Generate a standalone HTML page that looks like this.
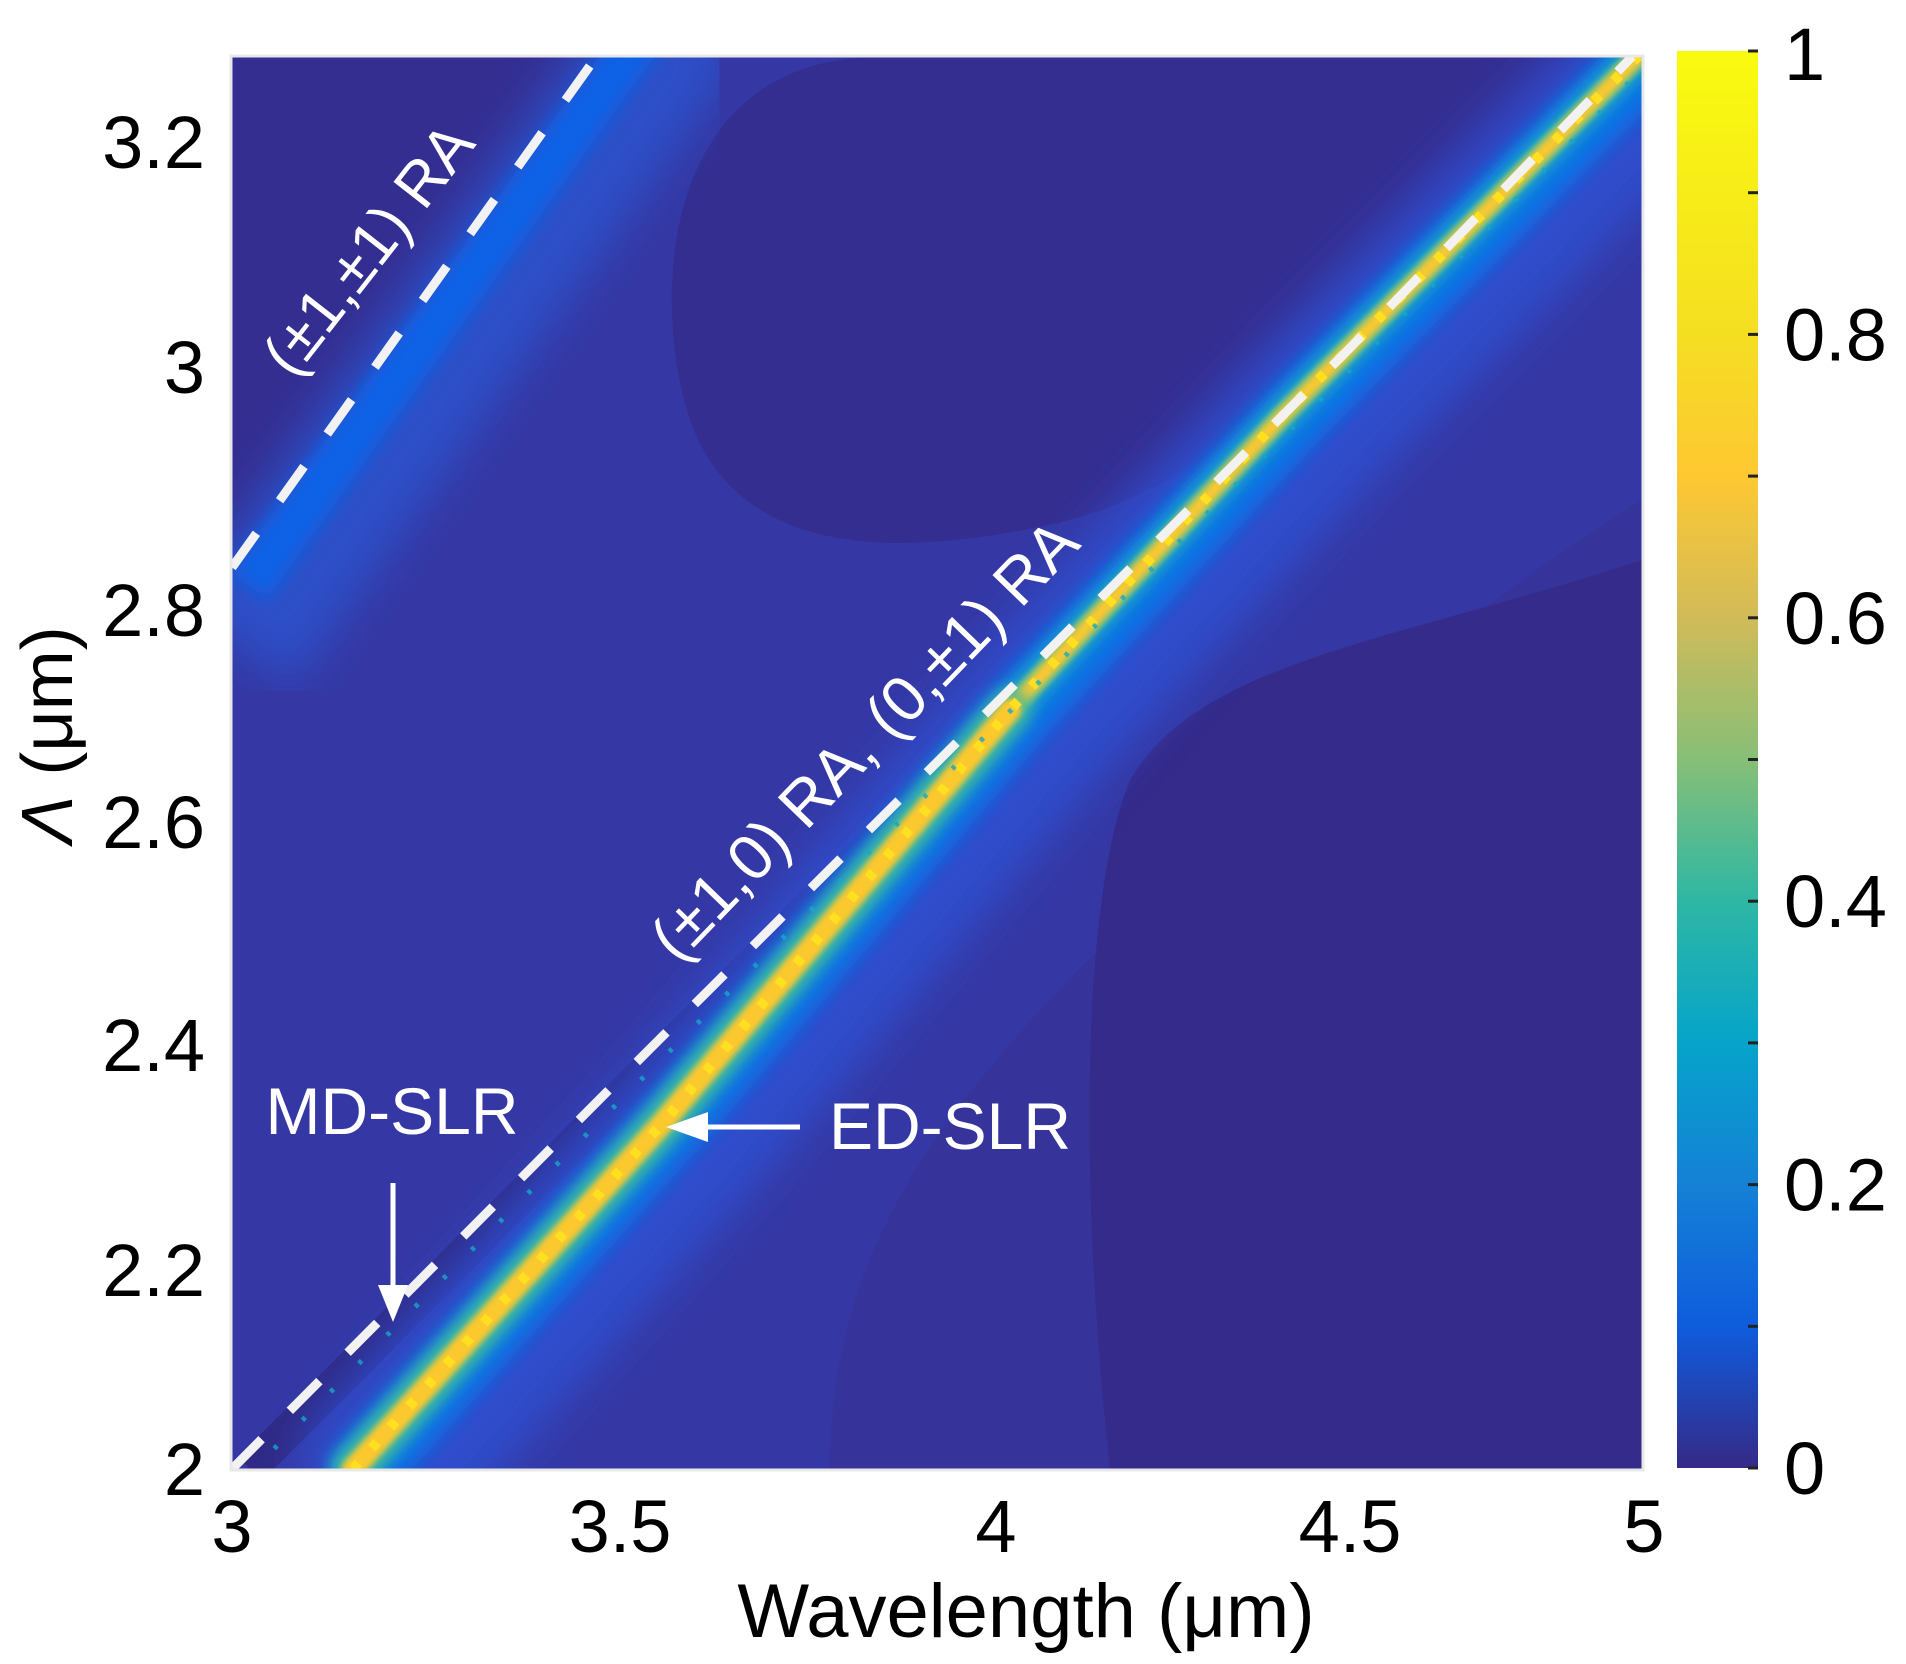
<!DOCTYPE html>
<html><head><meta charset="utf-8"><style>
html,body{margin:0;padding:0;background:#fff;}
svg{display:block;font-family:"Liberation Sans",Arial,sans-serif;}
</style></head><body>
<svg id="chart" width="1906" height="1664" viewBox="0 0 1906 1664" xmlns="http://www.w3.org/2000/svg">
<defs>
 <clipPath id="plotclip"><rect x="232" y="57" width="1410" height="1412"/></clipPath>
 <filter id="blur8" x="-20%" y="-20%" width="140%" height="140%"><feGaussianBlur stdDeviation="8"/></filter>
 <filter id="blur20" x="-20%" y="-20%" width="140%" height="140%"><feGaussianBlur stdDeviation="22"/></filter>
 <filter id="blur4"><feGaussianBlur stdDeviation="3"/></filter>
 <linearGradient id="cbgrad" x1="0" y1="1" x2="0" y2="0">
  <stop offset="0" stop-color="#352a87"/><stop offset="0.1" stop-color="#0f5cdd"/>
  <stop offset="0.2" stop-color="#1481d6"/><stop offset="0.3" stop-color="#06a4ca"/>
  <stop offset="0.4" stop-color="#2eb7a4"/><stop offset="0.5" stop-color="#87bf77"/>
  <stop offset="0.6" stop-color="#d1bb59"/><stop offset="0.7" stop-color="#fec832"/>
  <stop offset="0.8" stop-color="#f5de22"/><stop offset="1" stop-color="#f9fb0e"/>
 </linearGradient>
</defs>
<g id="plot" clip-path="url(#plotclip)"></g>
<rect x="231" y="56" width="1412" height="1414" fill="none" stroke="#e8e8e8" stroke-width="3"/>
<g id="axes"></g>
<g id="cbar"></g>
<g id="annot"></g>
</svg>
<script>
// ---- data ----
const xTicks = [3, 3.5, 4, 4.5, 5];
const xTickLabels = ['3', '3.5', '4', '4.5', '5'];
const yTicks = [2, 2.2, 2.4, 2.6, 2.8, 3, 3.2];
const yTickLabels = ['2', '2.2', '2.4', '2.6', '2.8', '3', '3.2'];
const cbTicks = [0, 0.1, 0.2, 0.3, 0.4, 0.5, 0.6, 0.7, 0.8, 0.9, 1];
const cbTickLabels = ['0', '', '0.2', '', '0.4', '', '0.6', '', '0.8', '', '1'];
// (±1,0)/(0,±1) Rayleigh anomaly
const ra10Wavelength = [3, 3.5, 4, 4.5, 4.98];
const ra10Period = [2.0, 2.37, 2.712, 3.017, 3.275];
// (±1,±1) Rayleigh anomaly
const ra11Wavelength = [3, 3.475];
const ra11Period = [2.835, 3.28];
// ED-SLR resonance ridge
const edWavelength = [3.156, 3.557, 4.02, 4.405, 4.99];
const edPeriod = [2.0, 2.331, 2.706, 2.96, 3.275];

// ---- axis calibration ----
const xCal = [[3,232],[3.5,620],[4,996],[4.5,1350],[5,1644]];
const yCal = [[2,1469],[2.2,1270],[2.4,1045],[2.6,822],[2.8,610],[3,367],[3.2,142],[3.4,-86]];
function interp(cal, v){
  for(let i=0;i<cal.length-1;i++){
    const a=cal[i], b=cal[i+1];
    if(v<=b[0] || i===cal.length-2){return a[1]+(v-a[0])/(b[0]-a[0])*(b[1]-a[1]);}
  }
}
const X = v => interp(xCal, v);
const Y = v => interp(yCal, v);
const cbY = v => 1468 - v*(1468-51);

const NS='http://www.w3.org/2000/svg';
function mk(tag, attrs, parent){
  const e=document.createElementNS(NS,tag);
  for(const k in attrs) e.setAttribute(k, attrs[k]);
  parent.appendChild(e); return e;
}
const plot=document.getElementById('plot');
const axes=document.getElementById('axes');
const cbar=document.getElementById('cbar');
const annot=document.getElementById('annot');

let bg=mk('rect',{x:232,y:57,width:1410,height:1412,fill:'#3538a4'},plot);


let d1=mk('path',{d:'M 880 57 C 660 57 650 300 690 420 C 740 560 900 560 1070 520 C 1180 490 1250 420 1330 380 L 1642 57 Z',fill:'#352e91'},plot);


let d0=mk('path',{d:'M 232 57 L 232 560 L 600 57 Z',fill:'#352e91'},plot);


let d2=mk('path',{d:'M 830 1469 C 830 1250 940 1100 1150 900 C 1300 760 1420 640 1642 500 L 1642 1469 Z',fill:'#36339b'},plot);


let d3=mk('path',{d:'M 1110 1469 C 1080 1200 1080 900 1130 780 C 1200 660 1400 640 1642 560 L 1642 1469 Z',fill:'#352b8b'},plot);



function pts(xs, ys, dx, dy){ return xs.map((x,i)=>(X(x)+(dx||0))+','+(Y(ys[i])+(dy||0))).join(' '); }

let b1=mk('polyline',{points:pts(ra11Wavelength,ra11Period,45,20),fill:'none',stroke:'#2a55d0','stroke-width':140,filter:'url(#blur20)',opacity:0.8,'stroke-linecap':'square'},plot);


let b2=mk('polyline',{points:pts(ra11Wavelength,ra11Period,30,0),fill:'none',stroke:'#0f62e6','stroke-width':45,filter:'url(#blur8)','stroke-linecap':'square'},plot);



let ds=mk('polyline',{points:pts(ra10Wavelength,ra10Period,18,0),fill:'none',stroke:'#302a86','stroke-width':34},plot);



const edLayers=[['#2f4fd0',170,'url(#blur20)',0.9],['#0d6fe4',70,'url(#blur8)',1],['#13a7c9',34,'url(#blur8)',1],['#7cc07c',22,'url(#blur4)',1],['#f8c830',13,'url(#blur4)',1]];
edLayers.forEach((L,i)=>{
  const p=mk('polyline',{points:pts(edWavelength,edPeriod,i===0?35:(i===1?12:0),0),fill:'none',stroke:L[0],'stroke-width':L[1],filter:L[2],opacity:L[3],'stroke-linecap':'round'},plot);
  
  
});
// thicker lower section of the ridge
const edLowW = edWavelength.slice(0,3), edLowP = edPeriod.slice(0,3);
let lg=mk('polyline',{points:pts(edLowW,edLowP),fill:'none',stroke:'#3cb8a0','stroke-width':40,filter:'url(#blur8)','stroke-linecap':'round'},plot);


let ly=mk('polyline',{points:pts(edLowW,edLowP),fill:'none',stroke:'#fbc82e','stroke-width':22,filter:'url(#blur4)','stroke-linecap':'round'},plot);


let dots=mk('polyline',{points:pts(edWavelength,edPeriod),fill:'none',stroke:'#ffe020','stroke-width':10,'stroke-dasharray':'8 20'},plot);



let md=mk('polyline',{points:pts(ra10Wavelength,ra10Period,14,8),fill:'none',stroke:'#17a8c8','stroke-width':5,'stroke-dasharray':'4 36',opacity:0.8},plot);



let r10=mk('polyline',{points:pts(ra10Wavelength,ra10Period),fill:'none',stroke:'#f2f2f2','stroke-width':9,'stroke-dasharray':'42 40'},plot);


let r11=mk('polyline',{points:pts(ra11Wavelength,ra11Period),fill:'none',stroke:'#f2f2f2','stroke-width':9,'stroke-dasharray':'42 40'},plot);



xTicks.forEach((v,i)=>{
  const t=mk('text',{x:X(v),y:1552,'text-anchor':'middle','font-size':74,fill:'#000'},axes);
  t.textContent=xTickLabels[i];
  
  
});
yTicks.forEach((v,i)=>{
  const t=mk('text',{x:205,y:Y(v)+26,'text-anchor':'end','font-size':74,fill:'#000'},axes);
  t.textContent=yTickLabels[i];
  
  
});
let xt=mk('text',{x:1026,y:1637,'text-anchor':'middle','font-size':76,fill:'#000'},axes);
xt.textContent='Wavelength (μm)';


let yt=mk('text',{x:0,y:0,'text-anchor':'middle','font-size':72,fill:'#000',transform:'translate(72,735) rotate(-90)'},axes);
yt.innerHTML='<tspan font-style="italic">Λ</tspan> (μm)';



let cb=mk('rect',{x:1677,y:51,width:81,height:1417,fill:'url(#cbgrad)'},cbar);


cbTicks.forEach((v,i)=>{
  const tk=mk('line',{x1:1748,x2:1758,y1:cbY(v),y2:cbY(v),stroke:'#222','stroke-width':3},cbar);
  
  
  if(cbTickLabels[i]){
    let yy=cbY(v)+26; if(v===1) yy=80; if(v===0) yy=1494;
    const t=mk('text',{x:1784,y:yy,'font-size':74,fill:'#000'},cbar);
    t.textContent=cbTickLabels[i];
    
    
  }
});

function wtext(txt,x,y,size,rot,name){
  const t=mk('text',{x:x,y:y,'font-size':size,fill:'#fff','text-anchor':'middle'},annot);
  if(rot) t.setAttribute('transform','rotate('+rot+' '+x+' '+y+')');
  t.textContent=txt;
  
  
}
wtext('(±1,±1) RA',385,262,62,-52,'ra11-label');
wtext('(±1,0) RA, (0,±1) RA',880,755,64,-46,'ra10-label');
wtext('MD-SLR',392,1134,66,0,'md-slr-label');
wtext('ED-SLR',950,1149,66,0,'ed-slr-label');
let a1=mk('line',{x1:393,y1:1183,x2:393,y2:1290,stroke:'#fff','stroke-width':5},annot);


let a1h=mk('polygon',{points:'378,1285 408,1285 393,1322',fill:'#fff'},annot);


let a2=mk('line',{x1:800,y1:1127,x2:700,y2:1127,stroke:'#fff','stroke-width':5},annot);


let a2h=mk('polygon',{points:'708,1112 708,1142 666,1127',fill:'#fff'},annot);


</script>
</body></html>
